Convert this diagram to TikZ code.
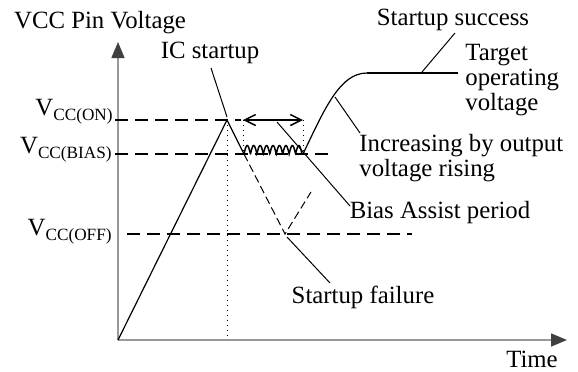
\documentclass[tikz,border=0pt]{standalone}
\usepackage{fontspec}
\setmainfont{Liberation Serif}
\usetikzlibrary{arrows.meta}

\newcommand{\vcc}[1]{V\raisebox{-2.8pt}{\fontsize{8.6}{10}\selectfont CC(#1)}}

\begin{document}
\begin{tikzpicture}[x=0.5pt, y=-0.5pt, font=\fontsize{12.4}{12.3}\selectfont,
	lbl/.style={inner sep=0pt},
	lead/.style={line width=0.5pt},
	ramp/.style={line width=0.6pt},
	level/.style={line width=0.9pt, dash pattern=on 6.5pt off 3.5pt},
	axis/.style={line width=0.75pt, black!40, -{Triangle[width=6.5pt, length=8pt, color=black!75]}}]
					\useasboundingbox (0,0) rectangle (578,371);

					% axes
					\coordinate (o) at (118,340);
					\coordinate (ytip) at (118,42);
					\coordinate (xtip) at (567,340);
					\draw[axis] (o) -- (ytip);
					\draw[axis] (o) -- (xtip);
					\node[lbl] (ylab)[] at (100,23) {VCC Pin Voltage};
					\node[lbl] (xlab)[] at (532,359) {Time};

					% levels
					\node[lbl, anchor=base east] (on)[] at (113,115) {\vcc{ON}};
					\node[lbl, anchor=base east] (bias)[] at (112,153) {\vcc{BIAS}};
					\node[lbl, anchor=base east] (off)[] at (112,235) {\vcc{OFF}};
					\coordinate (onL) at (115,120);
					\coordinate (onR) at (241,120);
					\coordinate (biasL) at (115,154);
					\coordinate (biasR) at (333,154);
					\coordinate (offL) at (127,234);
					\coordinate (offR) at (412,234);
					\draw[level] (onL) -- (onR);
					\draw[level] (biasL) -- (biasR);
					\draw[level] (offL) -- (offR);

					% startup ramp
					\coordinate (pk) at (227,120);
					\coordinate (b1) at (244,154);
					\coordinate (f1) at (285,234);
					\coordinate (r1) at (311,192);
					\draw[ramp] (o) -- (pk) -- (b1);
					\draw[lead, dash pattern=on 4pt off 2pt] (b1) -- (f1) -- (r1);
					\draw[lead, dotted] (pk) -- (pk |- o);

					% bias assist
					\coordinate (a1) at (243,120);
					\coordinate (a2) at (303,120);
					\coordinate (w1) at (243,154);
					\coordinate (w2) at (303,154);
					\draw[line width=0.75pt, {Straight Barb[length=5.5pt, width=5.5pt]}-{Straight Barb[length=5.5pt, width=5.5pt]}] (a1) -- (a2);
					\draw[lead, dotted] (a1) -- (w1);
					\draw[lead, dotted] (a2) -- (w2);
					\draw[line width=0.75pt] plot[domain=244:302, samples=240] (\x, {154-8.5*abs(sin(180*(\x-244)/6.45))});

					% output rising
					\coordinate (top) at (367,73);
					\coordinate (plend) at (458,73);
					\draw[ramp] (w2) .. controls (325,108) and (340,73) .. (top);
					\draw[line width=1pt] (top) -- (plend);

					% labels
					\node[lbl] (ics)[] at (210,53) {IC startup};
					\node[lbl] (succ)[] at (453,20) {Startup success};
					\node[lbl, anchor=west, align=left] (tgt)[] at (465,80) {Target\\operating\\voltage};
					\node[lbl, anchor=west, align=left] (inc)[] at (359,158) {Increasing by output\\voltage rising};
					\node[lbl] (bap)[] at (440,213) {Bias Assist period};
					\node[lbl] (fail)[] at (363,297) {Startup failure};

					\coordinate (icsA) at (211,68);
					\coordinate (icsB) at (227,117);
					\coordinate (succA) at (455,33);
					\coordinate (succB) at (422,72);
					\coordinate (incA) at (360,133);
					\coordinate (incB) at (335,97);
					\coordinate (bapA) at (350,206);
					\coordinate (bapB) at (277,122);
					\coordinate (failA) at (330,283);
					\coordinate (failB) at (287,237);

					\path[lead]
					(icsA) edge (icsB)
					(succA) edge (succB)
					(incA) edge (incB)
					(bapA) edge (bapB)
					(failA) edge (failB)
					;
				\end{tikzpicture}
\end{document}
